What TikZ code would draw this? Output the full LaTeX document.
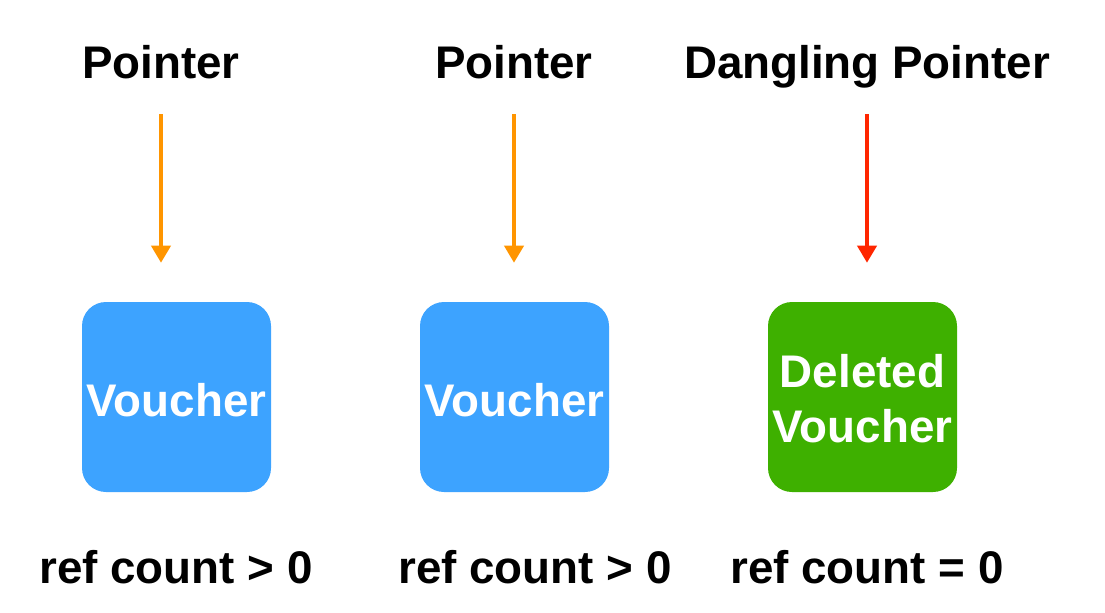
\documentclass[tikz,border=0pt]{standalone}
\usepackage{fontspec}
\setmainfont{Liberation Sans}
\usetikzlibrary{arrows.meta}
\definecolor{vblue}{HTML}{3DA3FF}
\definecolor{vgreen}{HTML}{3EB000}
\definecolor{aorange}{HTML}{FF9500}
\definecolor{ared}{HTML}{FF2600}
\newcommand{\dropby}[2]{\raisebox{-#1}[\height][\depth]{#2}}
\begin{document}
\begin{tikzpicture}[x=0.75pt,y=-0.75pt,
  lbl/.style={font=\bfseries\fontsize{34.3}{41.25}\selectfont, inner sep=0pt, text depth=0pt, anchor=base},
  vbox/.style={rounded corners=18pt, minimum width=141.75pt, minimum height=142.5pt, inner sep=0pt,
    text=white, align=center, font=\bfseries\fontsize{34.3}{41.25}\selectfont},
  ptr/.style={line width=2.8pt, -{Triangle[width=14.25pt,length=12.75pt]}, shorten <=27pt, shorten >=29.25pt}]
\useasboundingbox (0,0) rectangle (1105,612);
% titles
\node[lbl] (p1) at (161,78) {Pointer};
\node[lbl] (p2) at (514,78) {Pointer};
\node[lbl] (p3) at (867,78) {Dangling Pointer};
% boxes
\node[vbox, fill=vblue] (b1) at (176.5,397) {\dropby{2.25pt}{Voucher}};
\node[vbox, fill=vblue] (b2) at (514.5,397) {\dropby{2.25pt}{Voucher}};
\node[vbox, fill=vgreen] (b3) at (862.5,397) {\dropby{5.25pt}{\begin{tabular}{@{}c@{}}Deleted\\Voucher\end{tabular}}};
% counts
\node[lbl] (c1) at (176,583) {ref count > 0};
\node[lbl] (c2) at (535,583) {ref count > 0};
\node[lbl] (c3) at (867,583) {ref count = 0};
% arrows
\draw[ptr, draw=aorange, fill=aorange] (p1.south) -- (p1.south |- b1.north);
\draw[ptr, draw=aorange, fill=aorange] (p2.south) -- (p2.south |- b2.north);
\draw[ptr, draw=ared, fill=ared] (p3.south) -- (p3.south |- b3.north);
\end{tikzpicture}
\end{document}
